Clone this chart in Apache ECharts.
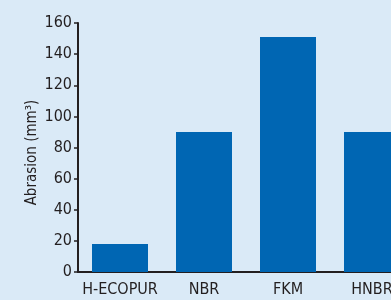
<!DOCTYPE html>
<html>
<head>
<meta charset="utf-8">
<script src="https://cdn.jsdelivr.net/npm/echarts@6/dist/echarts.min.js"></script>
<style>
  html, body { margin: 0; padding: 0; background: #ffffff; }
  #chart { width: 391px; height: 300px; }
</style>
</head>
<body>
<div id="chart"></div>
<script>
// materials and abrasion volumes (mm3)
let materials = ['H-ECOPUR', 'NBR', 'FKM', 'HNBR']
let abrasion = [18, 90, 151, 90]
let yTicks = [0, 20, 40, 60, 80, 100, 120, 140, 160]

let axisFont = '"DejaVu Sans Condensed", sans-serif'
let chart = echarts.init(document.getElementById('chart'))

chart.setOption({
    backgroundColor: '#daeaf7',
    animation: false,
    grid: {
        left: 78,
        top: 23,
        bottom: 28,
        right: -23,
        outerBoundsMode: 'none'
    },
    xAxis: {
        type: 'category',
        data: materials,
        axisLine: { lineStyle: { color: '#231f20', width: 2 } },
        axisTick: { show: false },
        axisLabel: { color: '#231f20', fontSize: 16, fontFamily: axisFont, margin: 10, interval: 0 }
    },
    yAxis: {
        type: 'value',
        min: yTicks[0],
        max: yTicks[yTicks.length - 1],
        interval: 20,
        name: 'Abrasion (mm³)',
        nameLocation: 'middle',
        nameGap: 38,
        nameMoveOverlap: false,
        nameTextStyle: { color: '#231f20', fontSize: 15, fontFamily: axisFont, padding: [0, 10, 0, 0] },
        axisLine: { show: true, lineStyle: { color: '#231f20', width: 2 } },
        axisTick: { show: true, length: 4, lineStyle: { color: '#231f20', width: 1.5 } },
        axisLabel: { color: '#231f20', fontSize: 16, fontFamily: axisFont, margin: 6 },
        splitLine: { show: false }
    },
    series: [{
        type: 'bar',
        data: abrasion,
        barWidth: 56,
        itemStyle: { color: '#0066b3' }
    }]
})
</script>
</body>
</html>
